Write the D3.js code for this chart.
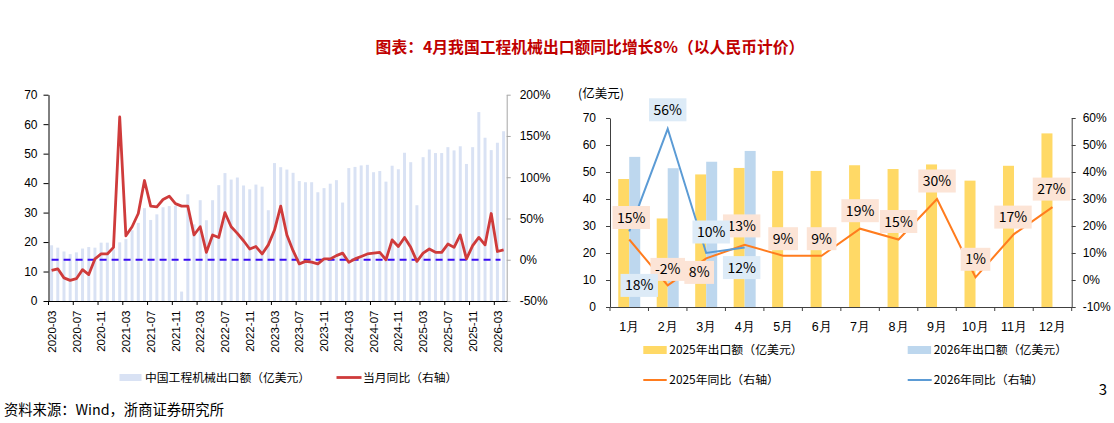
<!DOCTYPE html>
<html>
<head>
<meta charset="utf-8">
<script src="https://cdn.jsdelivr.net/npm/d3@7"></script>
<style>
  body { margin: 0; background: #fff; }
  svg { font-family: "Noto Sans CJK SC", "Noto Sans", sans-serif; }
</style>
</head>
<body>
<svg id="chart" width="1114" height="423"></svg>
<script>
(function () {
    // ---------- data: left chart (monthly, 2020-03 .. 2026-04) ----------
    const monthsL = [
        "2020-03", "2020-04", "2020-05", "2020-06", "2020-07", "2020-08", "2020-09", "2020-10", "2020-11", "2020-12",
        "2021-01", "2021-02", "2021-03", "2021-04", "2021-05", "2021-06", "2021-07", "2021-08", "2021-09", "2021-10", "2021-11", "2021-12",
        "2022-01", "2022-02", "2022-03", "2022-04", "2022-05", "2022-06", "2022-07", "2022-08", "2022-09", "2022-10", "2022-11", "2022-12",
        "2023-01", "2023-02", "2023-03", "2023-04", "2023-05", "2023-06", "2023-07", "2023-08", "2023-09", "2023-10", "2023-11", "2023-12",
        "2024-01", "2024-02", "2024-03", "2024-04", "2024-05", "2024-06", "2024-07", "2024-08", "2024-09", "2024-10", "2024-11", "2024-12",
        "2025-01", "2025-02", "2025-03", "2025-04", "2025-05", "2025-06", "2025-07", "2025-08", "2025-09", "2025-10", "2025-11", "2025-12",
        "2026-01", "2026-02", "2026-03", "2026-04"
    ];
    // 中国工程机械出口额（亿美元）
    const exportL = [
        18.9, 18.1, 16.8, 15.9, 16.5, 17.8, 18.3, 18.1, 19.8, 19.8,
        17.5, 19.9, 21.0, 24.0, 26.5, 31.5, 27.5, 29.4, 31.8, 32.2, 32.3, 3.2,
        36.2, 26.0, 34.2, 27.4, 34.2, 39.3, 43.4, 41.2, 41.9, 39.2, 37.9, 39.5,
        38.8, 30.8, 46.8, 45.4, 44.6, 43.5, 40.7, 40.3, 40.3, 36.9, 38.3, 39.8,
        41.0, 33.4, 45.1, 45.5, 46.0, 46.2, 43.7, 44.1, 40.5, 45.9, 44.7, 50.3,
        47.1, 32.5, 48.8, 51.4, 50.2, 50.2, 52.2, 51.1, 52.5, 46.5, 52.2, 64.1,
        55.4, 51.2, 53.7, 57.6
    ];
    // 当月同比（%，右轴）
    const yoyL = [
        -13, -11, -22, -25, -23, -12, -18, 1, 7, 7,
        15, 173, 29, 40, 56, 96, 65, 64, 73, 77, 68, 65,
        65, 30, 40, 9, 30, 27, 57, 40, 32, 23, 13, 16,
        7, 18, 36, 65, 30, 11, -5, -2, -3, -5, 1, 1,
        5, 8, -3, 1, 4, 7, 8, 9, 0, 24, 16, 27,
        15, -2, 8, 13, 9, 9, 19, 15, 30, 1, 17, 27,
        18, 56, 10, 12
    ];
    const leftTicksY = [0, 10, 20, 30, 40, 50, 60, 70];
    const leftTicksYR = [-50, 0, 50, 100, 150, 200];

    // ---------- data: right chart (by month) ----------
    const monthsR = ["1月", "2月", "3月", "4月", "5月", "6月", "7月", "8月", "9月", "10月", "11月", "12月"];
    const export2025 = [47.4, 32.8, 49.1, 51.5, 50.4, 50.4, 52.5, 51.1, 52.8, 46.8, 52.3, 64.3];
    const export2026 = [55.6, 51.4, 53.8, 57.8];
    const yoy2025 = [15, -2, 8, 13, 9, 9, 19, 15, 30, 1, 17, 27];
    const yoy2026 = [18, 56, 10, 12];
    const rightTicksY = [0, 10, 20, 30, 40, 50, 60, 70];
    const rightTicksYR = [-10, 0, 10, 20, 30, 40, 50, 60];

    // label placement offsets (box centre relative to point)
    const labOff2025 = [[2, -22], [0, -16], [-7, 14], [-3, -19], [0, -17], [0, -17],
                        [0, -18], [0, -18], [0, -18], [0, -18], [-1, -17], [-1, -18]];
    const labOff2026 = [[10, 54], [0, -19], [5, -21], [-3, 20]];

    const svg = d3.select("#chart");

    // title
    svg.append("text")
        .attr("x", 590).attr("y", 53)
        .attr("text-anchor", "middle")
        .style("font-size", "15.8px").style("font-weight", "bold")
        .style("fill", "#C00000")
        .text("图表：4月我国工程机械出口额同比增长8%（以人民币计价）");

    // =============== left chart ===============
    const left = svg.append("g");
    const xL = d3.scaleBand().domain(monthsL).range([48.5, 506.7]);
    const bwL = xL.bandwidth();
    const yL = d3.scaleLinear().domain([0, 70]).range([301, 94.7]);
    const yLR = d3.scaleLinear().domain([-50, 200]).range([301, 94.7]);

    left.append("g")
        .selectAll("rect")
        .data(exportL)
        .enter()
        .append("rect")
        .attr("x", (d, i) => xL(monthsL[i]) + bwL * 0.26)
        .attr("width", bwL * 0.48)
        .attr("y", d => yL(d))
        .attr("height", d => yL(0) - yL(d))
        .style("fill", "#D9E2F4");

    // zero reference
    left.append("line")
        .attr("x1", xL(monthsL[0]) + bwL / 2)
        .attr("x2", xL(monthsL[monthsL.length - 1]))
        .attr("y1", yLR(0)).attr("y2", yLR(0))
        .style("stroke", "#3A0CF2").style("stroke-width", 2)
        .style("stroke-dasharray", "7,5");

    left.append("path")
        .datum(yoyL)
        .attr("d", d3.line()
            .x((d, i) => xL(monthsL[i]) + bwL / 2)
            .y(d => yLR(d)))
        .style("fill", "none")
        .style("stroke", "#CF3B3B")
        .style("stroke-width", 2.8)
        .style("stroke-linejoin", "round");

    // axes
    const axL = left.append("g")
        .attr("transform", "translate(48.5,0)")
        .call(d3.axisLeft(yL).tickValues(leftTicksY).tickSize(5).tickSizeOuter(0).tickPadding(6));
    axL.selectAll("text").style("font-size", "12px").style("fill", "#000");
    axL.selectAll("line, path").style("stroke", "#000");

    const axLR = left.append("g")
        .attr("transform", "translate(506.7,0)")
        .call(d3.axisRight(yLR).tickValues(leftTicksYR).tickFormat(d => d + "%")
            .tickSize(4).tickSizeOuter(0).tickPadding(9));
    axLR.selectAll("text").style("font-size", "12px").style("fill", "#000");
    axLR.selectAll("line, path").style("stroke", "#A6A6A6");

    const tickMonths = monthsL.filter((d, i) => i % 4 === 0);
    const axLB = left.append("g")
        .attr("transform", "translate(0,301)")
        .call(d3.axisBottom(xL).tickValues(tickMonths).tickSize(4).tickSizeOuter(0));
    axLB.selectAll(".tick line").attr("x1", -bwL / 2).attr("x2", -bwL / 2).style("stroke", "#000");
    axLB.select(".domain").style("stroke", "#000");
    axLB.selectAll("text")
        .attr("transform", "rotate(-90)")
        .attr("text-anchor", "end")
        .attr("x", -9.5).attr("y", 0).attr("dy", "0.36em")
        .style("font-size", "11.5px").style("fill", "#000");

    // left legend
    left.append("rect").attr("x", 119.5).attr("y", 374).attr("width", 22).attr("height", 7)
        .style("fill", "#D9E2F4");
    left.append("text").attr("x", 145).attr("y", 377.5).attr("dy", "0.36em")
        .style("font-size", "11.8px").text("中国工程机械出口额（亿美元）");
    left.append("line").attr("x1", 336.5).attr("x2", 361.5).attr("y1", 377.5).attr("y2", 377.5)
        .style("stroke", "#CF3B3B").style("stroke-width", 2.8);
    left.append("text").attr("x", 363).attr("y", 377.5).attr("dy", "0.36em")
        .style("font-size", "11.8px").text("当月同比（右轴）");

    // source
    svg.append("text").attr("x", 4).attr("y", 410).attr("dy", "0.36em")
        .style("font-size", "14.3px").text("资料来源：Wind，浙商证券研究所");

    // =============== right chart ===============
    const right = svg.append("g");
    const xR = d3.scaleBand().domain(monthsR).range([610, 1071.7]);
    const bwR = xR.bandwidth();
    const xS = d3.scaleBand().domain(["2025", "2026"]).range([bwR / 2 - 11, bwR / 2 + 11]);
    const yR = d3.scaleLinear().domain([0, 70]).range([307, 118]);
    const yRR = d3.scaleLinear().domain([-10, 60]).range([307, 118]);
    const cx = i => xR(monthsR[i]) + bwR / 2;

    right.append("g").selectAll("rect")
        .data(export2025).enter().append("rect")
        .attr("x", (d, i) => xR(monthsR[i]) + xS("2025"))
        .attr("width", xS.bandwidth())
        .attr("y", d => yR(d))
        .attr("height", d => yR(0) - yR(d))
        .style("fill", "#FFD966");

    right.append("g").selectAll("rect")
        .data(export2026).enter().append("rect")
        .attr("x", (d, i) => xR(monthsR[i]) + xS("2026"))
        .attr("width", xS.bandwidth())
        .attr("y", d => yR(d))
        .attr("height", d => yR(0) - yR(d))
        .style("fill", "#BDD7EE");

    const lineR = d3.line().x((d, i) => cx(i)).y(d => yRR(d));
    right.append("path").datum(yoy2025).attr("d", lineR)
        .style("fill", "none").style("stroke", "#FF7C1E").style("stroke-width", 2);
    right.append("path").datum(yoy2026).attr("d", lineR)
        .style("fill", "none").style("stroke", "#5B9BD5").style("stroke-width", 2);

    // axes
    const axR = right.append("g")
        .attr("transform", "translate(610,0)")
        .call(d3.axisLeft(yR).tickValues(rightTicksY).tickSize(4).tickSizeOuter(0).tickPadding(10));
    axR.selectAll("text").style("font-size", "12px").style("fill", "#000");
    axR.selectAll("line, path").style("stroke", "#404040");

    const axRR = right.append("g")
        .attr("transform", "translate(1071.7,0)")
        .call(d3.axisRight(yRR).tickValues(rightTicksYR).tickFormat(d => d + "%")
            .tickSize(4).tickSizeOuter(0).tickPadding(7));
    axRR.selectAll("text").style("font-size", "12px").style("fill", "#000");
    axRR.selectAll("line, path").style("stroke", "#404040");

    const axRB = right.append("g")
        .attr("transform", "translate(0,307)")
        .call(d3.axisBottom(xR).tickSize(4).tickSizeOuter(0).tickPadding(11));
    axRB.selectAll(".tick line").attr("x1", -bwR / 2).attr("x2", -bwR / 2).style("stroke", "#404040");
    axRB.select(".domain").style("stroke", "#404040");
    axRB.selectAll("text").style("font-size", "12.5px").style("fill", "#000");
    // closing tick at right end
    right.append("line").attr("x1", 1071.7).attr("x2", 1071.7).attr("y1", 307).attr("y2", 311)
        .style("stroke", "#404040");

    right.append("text").attr("x", 578).attr("y", 93).attr("dy", "0.36em")
        .style("font-size", "12.5px").text("(亿美元)");

    // data labels
    function addLabels(values, offsets, fill) {
        values.forEach((v, i) => {
            const g = right.append("g")
                .attr("transform", `translate(${cx(i) + offsets[i][0]},${yRR(v) + offsets[i][1]})`);
            const rect = g.append("rect").style("fill", fill);
            const t = g.append("text").attr("text-anchor", "middle").attr("dy", "0.36em")
                .style("font-size", "14px").text(v + "%");
            const w = t.node().getComputedTextLength() + 9;
            rect.attr("x", -w / 2).attr("y", -11.5).attr("width", w).attr("height", 23);
        });
    }
    addLabels(yoy2025, labOff2025, "#FCE4D6");
    addLabels(yoy2026, labOff2026, "#DDEBF7");

    // right legend
    right.append("rect").attr("x", 643.3).attr("y", 346).attr("width", 23.4).attr("height", 8).style("fill", "#FFD966");
    right.append("text").attr("x", 669.3).attr("y", 350).attr("dy", "0.36em")
        .style("font-size", "11.9px").text("2025年出口额（亿美元）");
    right.append("rect").attr("x", 907.7).attr("y", 346).attr("width", 23.4).attr("height", 8).style("fill", "#BDD7EE");
    right.append("text").attr("x", 933.7).attr("y", 350).attr("dy", "0.36em")
        .style("font-size", "11.9px").text("2026年出口额（亿美元）");
    right.append("line").attr("x1", 643.3).attr("x2", 666.7).attr("y1", 380).attr("y2", 380)
        .style("stroke", "#FF7C1E").style("stroke-width", 2);
    right.append("text").attr("x", 669.3).attr("y", 380).attr("dy", "0.36em")
        .style("font-size", "11.9px").text("2025年同比（右轴）");
    right.append("line").attr("x1", 907.7).attr("x2", 931.7).attr("y1", 380).attr("y2", 380)
        .style("stroke", "#5B9BD5").style("stroke-width", 2);
    right.append("text").attr("x", 933.7).attr("y", 380).attr("dy", "0.36em")
        .style("font-size", "11.9px").text("2026年同比（右轴）");

    // page number
    svg.append("text").attr("x", 1103).attr("y", 390).attr("dy", "0.36em")
        .attr("text-anchor", "middle").style("font-size", "15px").text("3");
})();
</script>
</body>
</html>
